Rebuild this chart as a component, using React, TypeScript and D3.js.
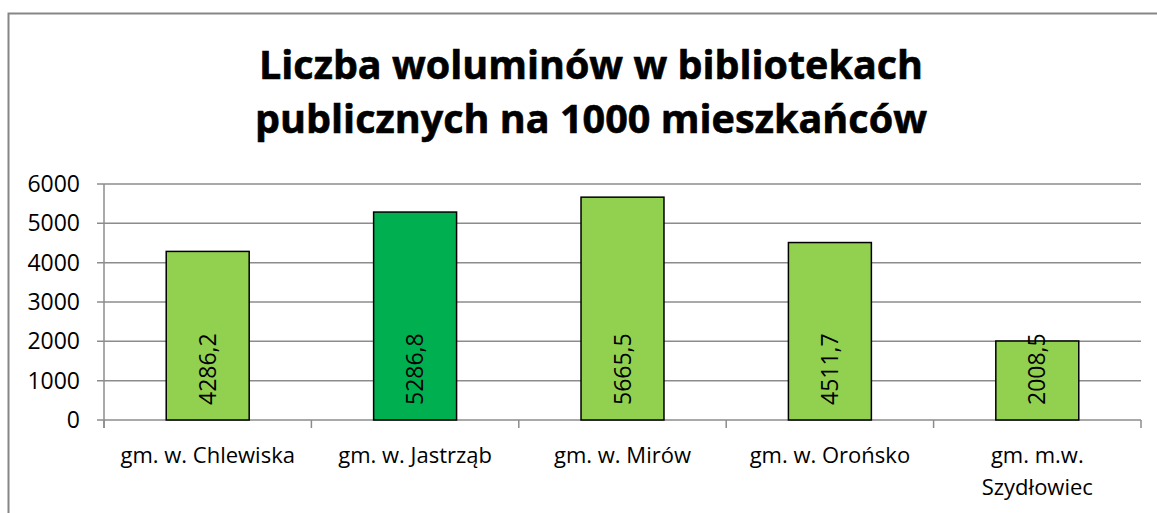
import * as d3 from "d3";

const categories = [
	"gm. w. Chlewiska",
	"gm. w. Jastrząb",
	"gm. w. Mirów",
	"gm. w. Orońsko",
	"gm. m.w.\nSzydłowiec",
];
const values = [4286.2, 5286.8, 5665.5, 4511.7, 2008.5];
const barColors = ["#92D050", "#00B050", "#92D050", "#92D050", "#92D050"];
const yTicks = [0, 1000, 2000, 3000, 4000, 5000, 6000];
const titleLines = [
	"Liczba woluminów w bibliotekach",
	"publicznych na 1000 mieszkańców",
];

const plLocale = d3.formatLocale({
	decimal: ",",
	thousands: "",
	grouping: [3],
	currency: ["", " zł"],
});
const fmt = plLocale.format(".1f");

function App() {
	const widthSVG = 1157;
	const heightSVG = 513;
	const left = 104;
	const right = 1141;
	const top = 184;
	const bottom = 420;
	const font = "'Open Sans', 'Noto Sans', sans-serif";
	const gridColor = "#8c8c8c";

	const x = d3
		.scaleBand<string>()
		.domain(categories)
		.range([left, right])
		.paddingInner(0.6)
		.paddingOuter(0.3);
	const y = d3.scaleLinear().domain([0, 6000]).range([bottom, top]);
	const step = x.step();
	const boundaries = d3.range(categories.length + 1).map((i) => left + i * step);

	return (
		<svg
			width={widthSVG}
			height={heightSVG}
			style={{ position: "absolute", left: 0, top: 0, background: "#fff" }}
		>
			<rect
				x={8.5}
				y={13.5}
				width={widthSVG + 10}
				height={heightSVG + 10}
				fill="#fff"
				stroke="#868686"
				strokeWidth={2}
			/>
			{/* title */}
			{titleLines.map((t, i) => (
				<text
					key={t}
					x={591}
					y={79 + i * 54}
					textAnchor="middle"
					fontFamily={font}
					fontWeight="bold"
					fontSize={39}
					textLength={i === 0 ? 664 : 672}
					lengthAdjust="spacingAndGlyphs"
					fill="#000"
					stroke="#000"
					strokeWidth={0.6}
				>
					{t}
				</text>
			))}
			{/* gridlines + y labels */}
			{yTicks.map((t) => (
				<g key={t}>
					<line
						x1={97}
						x2={right}
						y1={y(t)}
						y2={y(t)}
						stroke={gridColor}
						strokeWidth={1.5}
					/>
					<text
						x={80}
						y={y(t)}
						dy="0.35em"
						textAnchor="end"
						fontFamily={font}
						fontSize={23}
						fill="#000"
					>
						{t}
					</text>
				</g>
			))}
			<line x1={left} x2={left} y1={top} y2={bottom + 8} stroke={gridColor} strokeWidth={1.5} />
			{boundaries.map((bx, i) => (
				<line
					key={i}
					x1={bx}
					x2={bx}
					y1={bottom}
					y2={bottom + 8}
					stroke={gridColor}
					strokeWidth={1.5}
				/>
			))}
			{/* bars */}
			{categories.map((c, i) => (
				<rect
					key={c}
					x={x(c)}
					y={y(values[i])}
					width={x.bandwidth()}
					height={bottom - y(values[i])}
					fill={barColors[i]}
					stroke="#000"
					strokeWidth={1.5}
				/>
			))}
			{/* value labels */}
			{categories.map((c, i) => {
				const cx = (x(c) as number) + x.bandwidth() / 2;
				const cy = bottom - 15;
				return (
					<text
						key={c}
						transform={`translate(${cx},${cy}) rotate(-90)`}
						dy="0.35em"
						textAnchor="start"
						fontFamily={font}
						fontSize={23}
						fill="#000"
					>
						{fmt(values[i])}
					</text>
				);
			})}
			{/* category labels */}
			{categories.map((c) => {
				const cx = (x(c) as number) + x.bandwidth() / 2;
				return (
					<text
						key={c}
						x={cx}
						y={463}
						textAnchor="middle"
						fontFamily={font}
						fontSize={22}
						fill="#000"
					>
						{c.split("\n").map((ln, j) => (
							<tspan key={j} x={cx} dy={j === 0 ? 0 : 32}>
								{ln}
							</tspan>
						))}
					</text>
				);
			})}
		</svg>
	);
}

export default App;
